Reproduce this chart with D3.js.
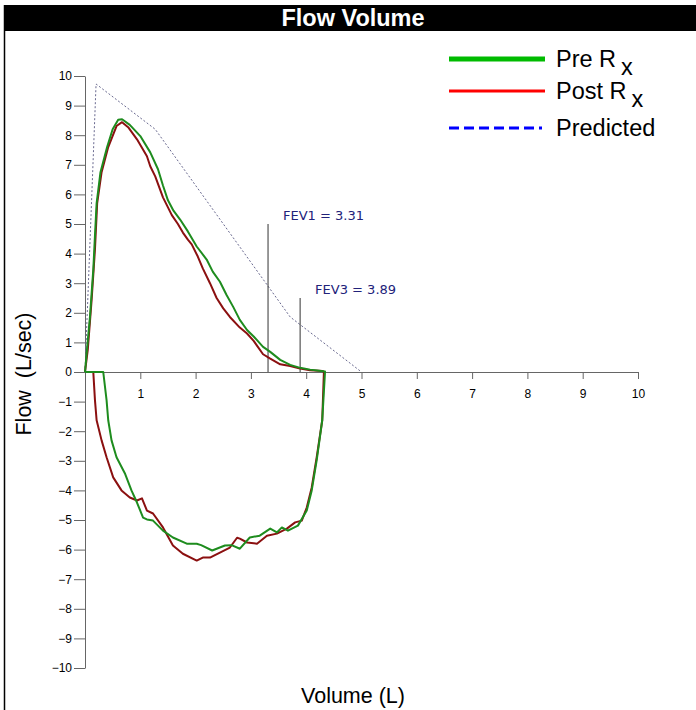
<!DOCTYPE html>
<html>
<head>
<meta charset="utf-8">
<script src="https://cdn.jsdelivr.net/npm/d3@7"></script>
<style>
  body { margin: 0; background: #fff; }
  svg { display: block; font-family: Arial, "Liberation Sans", sans-serif; }
</style>
</head>
<body>
<svg id="chart" width="696" height="710"></svg>
<script>
// flow-volume loop data, [volume L, flow L/sec]
const preRx = [
  [0, 0], [0.03, 0.64], [0.09, 1.87], [0.15, 3.46], [0.18, 4.6], [0.21, 5.7], [0.28, 6.75],
  [0.4, 7.6], [0.5, 8.2], [0.6, 8.52], [0.67, 8.54], [0.81, 8.35], [1.0, 7.97], [1.18, 7.42],
  [1.32, 6.85], [1.41, 6.3], [1.5, 5.8], [1.6, 5.45], [1.72, 5.15], [1.86, 4.75], [2.02, 4.24],
  [2.2, 3.8], [2.31, 3.39], [2.44, 3.05], [2.56, 2.6], [2.68, 2.2], [2.8, 1.76], [2.93, 1.42],
  [3.05, 1.2], [3.22, 0.85], [3.35, 0.68], [3.53, 0.41], [3.71, 0.24], [3.89, 0.14], [4.07, 0.08],
  [4.2, 0.05], [4.34, 0.02],
  // inspiration
  [4.34, 0], [4.29, -1.63], [4.19, -2.98], [4.1, -4.0], [4.01, -4.68], [3.85, -5.19], [3.67, -5.36],
  [3.56, -5.25], [3.47, -5.42], [3.35, -5.29], [3.16, -5.53], [2.98, -5.59], [2.8, -5.97],
  [2.65, -5.85], [2.53, -5.86], [2.3, -6.03], [2.1, -5.85], [2.02, -5.8], [1.84, -5.8],
  [1.59, -5.59], [1.41, -5.36], [1.23, -5.02], [1.12, -4.98], [1.05, -4.92], [0.94, -4.41],
  [0.84, -4.0], [0.72, -3.42], [0.57, -2.88], [0.48, -2.31], [0.42, -1.63], [0.39, -0.95],
  [0.33, 0], [0, 0]
];

const postRx = [
  [0, 0], [0.05, 0.75], [0.12, 2.44], [0.18, 4.14], [0.22, 5.7], [0.3, 6.75], [0.42, 7.6],
  [0.57, 8.31], [0.67, 8.44], [0.78, 8.27], [0.94, 7.86], [1.12, 7.29], [1.18, 6.95], [1.27, 6.61],
  [1.41, 5.9], [1.57, 5.3], [1.68, 5.0], [1.77, 4.71], [1.86, 4.47], [1.93, 4.31], [2.04, 3.9],
  [2.13, 3.5], [2.26, 3.0], [2.38, 2.5], [2.5, 2.15], [2.62, 1.86], [2.8, 1.5], [2.93, 1.3],
  [3.05, 1.05], [3.22, 0.6], [3.35, 0.45], [3.53, 0.26], [3.71, 0.2], [3.89, 0.12], [4.07, 0.06],
  [4.3, 0.03],
  // inspiration
  [4.32, 0], [4.29, -1.63], [4.19, -2.88], [4.1, -3.9], [4.01, -4.58], [3.92, -5.02], [3.8, -5.08],
  [3.65, -5.29], [3.47, -5.46], [3.29, -5.53], [3.11, -5.8], [2.93, -5.76], [2.8, -5.63],
  [2.75, -5.6], [2.62, -5.93], [2.44, -6.1], [2.26, -6.27], [2.13, -6.27], [2.02, -6.37],
  [1.77, -6.14], [1.59, -5.86], [1.41, -5.25], [1.23, -4.78], [1.12, -4.68], [1.03, -4.27],
  [0.94, -4.34], [0.81, -4.24], [0.66, -4.0], [0.51, -3.56], [0.39, -2.88], [0.3, -2.31],
  [0.21, -1.63], [0.18, -0.95], [0.15, 0]
];

const predicted = [[0, 0], [0.2, 9.73], [1.27, 8.2], [3.71, 1.86], [5, 0]];

const fevVolume = [3.31, 3.89];
const fevFlowTop = [5.0, 2.5];
const fevLabels = ['FEV1 = 3.31', 'FEV3 = 3.89'];

const xTicks = [1, 2, 3, 4, 5, 6, 7, 8, 9, 10];
const yTicks = d3.range(-10, 11);

const legendNames = ['Pre R', 'Post R', 'Predicted'];
const legendSub = ['x', 'x', ''];
const legendColors = ['#00bb00', '#ff0000', '#0000ff'];

const svg = d3.select('#chart');

// frame + title bar
svg.append('line').attr('x1', 4.5).attr('x2', 4.5).attr('y1', 5).attr('y2', 710)
  .attr('stroke', '#000').attr('stroke-width', 1.5);
svg.append('rect').attr('x', 4).attr('y', 5).attr('width', 692).attr('height', 26).attr('fill', '#000');
svg.append('text').attr('x', 353).attr('y', 26).attr('text-anchor', 'middle')
  .attr('fill', '#fff').attr('font-weight', 'bold').attr('font-size', 23.5)
  .text('Flow Volume');

const x = d3.scaleLinear().domain([0, 10]).range([85, 638]);
const y = d3.scaleLinear().domain([-10, 10]).range([668, 76]);

const axisColor = '#666';

const gx = svg.append('g').attr('transform', `translate(0,${ y(0) })`)
  .call(d3.axisBottom(x).tickValues(xTicks).tickSize(7).tickPadding(10).tickSizeOuter(0));
gx.select('.domain').attr('stroke', axisColor);
gx.selectAll('.tick line').attr('stroke', axisColor);
gx.selectAll('text').attr('font-size', 12).attr('font-family', 'Arial, "Liberation Sans", sans-serif').attr('fill', '#000');

const gy = svg.append('g').attr('transform', `translate(${ x(0) },0)`)
  .call(d3.axisLeft(y).tickValues(yTicks).tickSize(11).tickPadding(2).tickSizeOuter(0));
gy.select('.domain').attr('stroke', axisColor);
gy.selectAll('.tick line').attr('stroke', axisColor);
gy.selectAll('text').attr('font-size', 12).attr('font-family', 'Arial, "Liberation Sans", sans-serif').attr('fill', '#000');

// axis titles
svg.append('text').attr('transform', 'translate(31,374) rotate(-90)')
  .attr('text-anchor', 'middle').attr('font-size', 21.5)
  .attr('xml:space', 'preserve').text('Flow  (L/sec)');
svg.append('text').attr('x', 353).attr('y', 703).attr('text-anchor', 'middle')
  .attr('font-size', 21.5).text('Volume (L)');

const line = d3.line().x(d => x(d[0])).y(d => y(d[1]));

// predicted
svg.append('path').datum(predicted).attr('d', line)
  .attr('fill', 'none').attr('stroke', '#6a6a90').attr('stroke-width', 1)
  .attr('stroke-dasharray', '2,2');

// FEV markers
fevVolume.forEach((v, i) => {
  svg.append('line').attr('x1', x(v)).attr('x2', x(v)).attr('y1', y(0)).attr('y2', y(fevFlowTop[i]))
    .attr('stroke', '#333').attr('stroke-width', 1);
  svg.append('text').attr('x', x(v) + 15).attr('y', y(fevFlowTop[i]) - 4)
    .attr('font-family', '"DejaVu Sans", Verdana, sans-serif').attr('font-size', 13)
    .attr('fill', '#22227a').text(fevLabels[i]);
});

// loops
svg.append('path').datum(postRx).attr('d', line)
  .attr('fill', 'none').attr('stroke', '#8b1010').attr('stroke-width', 2)
  .attr('stroke-linejoin', 'round');
svg.append('path').datum(preRx).attr('d', line)
  .attr('fill', 'none').attr('stroke', '#1e8c1e').attr('stroke-width', 2)
  .attr('stroke-linejoin', 'round');

// legend
const legY = [59, 91, 128];
const legend = svg.append('g');
legendNames.forEach((name, i) => {
  const l = legend.append('line').attr('x1', 449).attr('x2', i === 2 ? 542 : 545)
    .attr('y1', legY[i]).attr('y2', legY[i])
    .attr('stroke', legendColors[i]).attr('stroke-width', i === 0 ? 5 : 3);
  if (i === 2) l.attr('stroke-dasharray', '10,5');
  const t = legend.append('text').attr('x', 556).attr('y', legY[i] + 8)
    .attr('font-size', 23.5).text(name);
  if (legendSub[i]) {
    t.append('tspan').attr('dx', 5).attr('dy', 8).text(legendSub[i]);
  }
});
</script>
</body>
</html>
